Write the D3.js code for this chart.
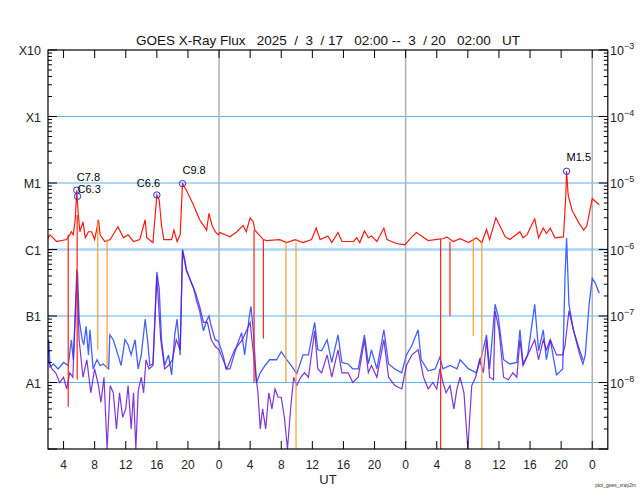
<!DOCTYPE html>
<html><head><meta charset="utf-8">
<script src="https://cdn.jsdelivr.net/npm/d3@7"></script>
<style>body{margin:0;background:#fff}text{font-family:"Liberation Sans",Arial,sans-serif}</style>
</head><body>
<script>
// hours since 2025-03-17 02:00 UT ; flux W/m^2
const redT=[0,0.26,1.1,2.4,2.8,3.0,3.25,3.5,3.7,3.9,4.1,4.5,4.8,5.2,5.6,6.0,6.5,6.7,7.3,8.0,9.0,9.7,10.3,11.0,11.8,12.5,12.7,13.5,14.0,14.3,14.6,14.9,15.5,15.9,16.2,16.6,17.0,17.3,17.8,18.7,19.5,20.0,20.4,20.7,21.1,21.5,21.9,22.1,23.4,24.3,25.1,25.5,26.0,26.4,26.6,27.7,28.1,29.8,30.7,31.8,32.8,33.9,34.5,35.0,36.0,36.5,37.3,37.8,39.3,39.7,40.1,40.7,41.2,41.6,42.3,43.2,43.6,44.8,45.9,46.8,47.4,47.8,48.9,49.8,50.8,51.3,52.1,53.0,54.1,55.1,55.8,56.4,56.8,57.6,58.1,58.8,59.4,60.7,61.1,61.6,62.6,63.1,63.7,64.1,64.6,65.2,66.3,66.6,66.7,66.9,67.4,68.2,68.9,69.3,70.0,70.9];
const redV=[1.5,1.66,1.32,1.41,1.66,1.85,1.66,2.8,7.8,3.3,1.85,2.6,1.5,1.85,1.85,1.41,2.8,1.66,1.32,1.41,2.2,1.5,1.66,1.32,1.41,2.8,1.5,1.27,6.6,5.6,2.3,1.41,1.41,1.41,1.95,1.32,1.66,9.8,7.8,4.7,2.8,2.3,1.95,3.5,2.3,1.85,1.66,1.8,1.55,1.85,2.3,1.85,3.0,2.6,1.95,1.41,1.36,1.41,1.27,1.41,1.27,1.41,2.1,1.41,1.6,1.27,1.8,1.32,1.32,1.5,1.27,1.9,1.5,1.6,1.32,2.1,1.41,1.23,1.17,1.55,1.8,1.66,1.36,1.41,1.45,1.55,1.32,1.45,1.27,1.5,1.27,2.0,1.41,3.0,2.3,1.55,1.41,1.85,1.5,1.66,2.9,1.5,2.1,1.74,2.1,1.5,1.55,6.6,15,6.6,3.9,2.6,1.95,2.25,5.8,4.7].map(v=>v*1e-6);
const blueT=[0,0.1,0.26,0.7,1.3,2.0,2.6,3.0,3.25,3.6,3.8,4.0,4.4,4.6,4.9,5.2,5.4,5.8,6.3,6.7,7.1,7.8,7.95,8.4,9.0,9.4,9.9,10.3,10.7,11.2,11.6,12.0,12.5,12.8,13.1,13.5,14.0,14.3,14.6,15.0,15.5,15.9,16.3,16.6,17.0,17.3,17.6,17.8,18.3,18.7,19.1,19.5,20.0,20.4,20.7,21.0,21.5,21.9,22.5,22.9,23.4,24.3,24.9,25.3,25.9,26.1,26.4,26.6,26.8,27.3,27.9,28.5,29.4,30.0,30.7,31.3,32.0,32.8,33.5,34.3,34.7,35.2,35.9,36.5,37.3,37.8,38.6,39.2,39.9,40.7,41.2,41.6,42.3,43.2,43.8,44.6,45.5,46.1,46.8,47.6,48.0,48.9,49.8,50.4,50.8,51.7,52.6,53.0,54.1,55.1,55.8,56.4,56.8,57.5,57.9,58.6,59.4,60.3,60.7,61.1,61.7,62.6,63.1,63.7,64.1,64.6,65.4,66.2,66.5,66.7,67.0,67.6,68.4,68.8,69.1,69.6,70.0,70.4,70.9];
const blueV=[2.2,4.4,1.7,1.9,1.6,2.0,1.8,4.4,2.2,17,46,9,4.4,3.7,7,2.6,6.2,1.6,2.2,1.8,1.9,1.6,5.2,4.4,2.6,1.8,4.4,3.7,2.6,4.4,1.6,2.6,9,4.4,1.8,1.9,46,26,4.4,1.8,2.6,1.3,5.2,9,2.6,100,70,50,35,27,17,12,6,8.5,10,7,4.4,4.2,2.6,1.6,1.6,3.6,5.6,2.6,10,14,6.2,2.6,0.98,1.4,1.8,2.2,2.2,2.9,2.2,1.8,1.35,2.6,2.6,8,3.1,3.0,4.4,2.0,5.2,2.0,1.9,1.6,1.6,5.2,1.9,3.1,1.6,6.2,1.9,1.6,1.4,2.6,3.6,6.2,2.2,1.5,1.6,2.4,1.6,1.8,1.6,2.2,1.6,1.4,2.6,5.2,1.6,15,10,2.2,1.9,2.0,6.2,1.9,2.6,15,3.0,6.2,2.2,4.4,1.3,1.6,40,150,15,6,2.6,1.9,2.6,15,37,31,22].map(v=>v*1e-8);
const purpT=[0,0.5,1,1.5,2,2.4,2.8,3.2,3.7,4,4.5,5,5.5,6,6.5,6.8,7.2,7.6,8,8.4,8.8,9.2,9.6,10,10.3,10.7,11,11.3,11.6,12,12.3,12.6,13,13.5,14,14.5,15,15.5,16,16.5,17,17.3,17.8,18.5,19,19.5,20,20.5,21,21.5,22,23,24,25,26,26.5,27,27.3,27.6,28,28.4,28.8,29.2,29.6,30,30.4,30.8,31.2,31.6,32,32.5,33,33.5,34.3,34.7,35.2,35.9,36.5,37.3,37.8,38.6,39.2,39.9,40.7,41.2,41.6,42.3,43.2,43.8,44.6,45.5,46.1,46.8,47.6,48.3,48.9,49.5,50,50.4,50.8,51.2,51.7,52.2,52.6,53,53.5,54,54.5,55,55.5,56,56.4,56.8,57.3,57.5,58,58.6,59.2,59.8,60.3,60.7,61.1,61.7,62.6,63.1,63.7,64.1,64.6,65.4,66.2,66.5,67,67.6,68.4,68.8];
const purpV=[2.2,1.6,1.4,1.0,1.2,0.8,1.4,1.2,50,4.4,1.2,2.2,0.7,1.6,0.9,0.5,1.2,0.1,0.9,0.7,0.2,0.7,0.3,0.4,0.9,0.2,0.7,0.08,0.75,1.2,0.7,2.2,1.6,1.8,40,4.4,1.6,1.8,2.2,4.4,3.1,95,48,30,22,14,8,8,4.4,3.5,3.1,1.6,3.1,4.4,8,2.2,0.7,0.2,0.4,0.2,0.7,0.4,0.8,0.6,0.6,0.3,0.1,0.4,1.2,0.9,1.2,1.4,1.2,6,1.6,1.4,2.6,1.2,3.1,1.4,1.4,1.0,1.2,4.4,1.4,1.8,1.2,4.4,1.2,0.9,0.8,1.8,2.6,3.1,1.2,0.8,1.0,0.8,1.6,1.0,0.7,0.9,0.4,0.8,1.2,0.7,0.1,0.9,1.2,2.2,1.4,4.4,1.2,1.1,12,6.2,1.2,1.1,1.4,1.2,4.4,1.8,2.6,4.4,2.2,4.4,3.1,4.4,2.6,2.6,3.6,12,6,3,2.2].map(v=>v*1e-8);
// data dropouts: hour, low flux, channel
const dropT=[2.6,3.75,6.4,7.6,26.5,27.7,30.6,31.9,50.5,51.7,54.7,55.8];
const dropV=[4.3e-9,1.1e-8,3.1e-8,1.6e-8,1e-8,4.6e-8,1e-8,1e-9,1e-9,1e-7,5e-8,1e-9];
const dropC=["red","red","orange","orange","red","red","orange","orange","red","red","orange","orange"];
const flareT=[3.7,3.8,14.0,17.3,66.7];
const flareV=[7.8e-6,6.3e-6,6.6e-6,9.8e-6,1.5e-5];
const flareL=["C7.8","C6.3","C6.6","C9.8","M1.5"];
const classLabels=["X10","X1","M1","C1","B1","A1"];
const classVals=[1e-3,1e-4,1e-5,1e-6,1e-7,1e-8];
const hourTicks=d3.range(2,72,4);
const midnights=[22,46,70];

const W=640,H=500,L=48,R=607.8,T=50,B=449;
const svg=d3.select("body").append("svg").attr("width",W).attr("height",H);
const x=d3.scaleLinear().domain([0,72]).range([L,R]);
const y=d3.scaleLog().domain([1e-9,1e-3]).range([B,T]).clamp(true);

const g=svg.append("g");
g.selectAll(".hg").data(classVals.slice(1)).join("line")
 .attr("x1",L).attr("x2",R).attr("y1",d=>y(d)).attr("y2",d=>y(d))
 .attr("stroke",d=>d===1e-6?"#a8d6fa":"#5ab0f0").attr("stroke-width",d=>d===1e-6?2.5:1.2);
g.selectAll(".mn").data(midnights).join("line")
 .attr("x1",d=>x(d)).attr("x2",d=>x(d)).attr("y1",T).attr("y2",B)
 .attr("stroke","#b0b0b0").attr("stroke-width",1.5);

const line=d3.line().x(d=>x(d[0])).y(d=>y(d[1]));
svg.append("clipPath").attr("id","c").append("rect").attr("x",L).attr("y",T).attr("width",R-L).attr("height",B-T);
const pg=svg.append("g").attr("clip-path","url(#c)");
pg.append("path").datum(blueT.map((t,i)=>[t,blueV[i]])).attr("d",line).attr("fill","none").attr("stroke","#4060ff").attr("stroke-width",1.3);
pg.append("path").datum(purpT.map((t,i)=>[t,purpV[i]])).attr("d",line).attr("fill","none").attr("stroke","#6a10d0").attr("stroke-width",1.2).attr("opacity",0.85);
pg.append("path").datum(redT.map((t,i)=>[t,redV[i]])).attr("d",line).attr("fill","none").attr("stroke","#ff1a10").attr("stroke-width",1.2);
const redAt=t=>{const i=Math.min(d3.bisectLeft(redT,t),redT.length-1);return redV[i];};
pg.selectAll(".dr").data(dropT).join("line")
 .attr("x1",d=>x(d)).attr("x2",d=>x(d)).attr("y1",d=>y(redAt(d))).attr("y2",(d,i)=>y(dropV[i]))
 .attr("stroke",(d,i)=>dropC[i]==="red"?"#ff2010":"#ff9a30").attr("stroke-width",1.2);

svg.selectAll(".fc").data(flareT).join("circle")
 .attr("cx",d=>x(d)).attr("cy",(d,i)=>y(flareV[i])).attr("r",3.2)
 .attr("fill","none").attr("stroke","#2030ff").attr("stroke-width",1);
const lblDy=[-9,-3,-8,-10,-10];
svg.selectAll(".fl").data(flareT).join("text")
 .attr("x",(d,i)=>x(d)+(i===2?-20:0)).attr("y",(d,i)=>y(flareV[i])+lblDy[i])
 .attr("font-size",11).attr("fill","#000").text((d,i)=>flareL[i]);

svg.append("rect").attr("x",L).attr("y",T).attr("width",R-L).attr("height",B-T).attr("fill","none").attr("stroke","#000").attr("stroke-width",1.2);
const minors=[];for(let e=-9;e<-3;e++)for(let k=2;k<=9;k++)minors.push(k*Math.pow(10,e));
[L,R].forEach((X,side)=>{
 const s=side?-1:1;
 svg.selectAll(null).data(minors).join("line").attr("x1",X).attr("x2",X+s*4).attr("y1",d=>y(d)).attr("y2",d=>y(d)).attr("stroke","#000");
 svg.selectAll(null).data(classVals.concat([1e-9])).join("line").attr("x1",X).attr("x2",X+s*9).attr("y1",d=>y(d)).attr("y2",d=>y(d)).attr("stroke","#000");
});
svg.selectAll(null).data(hourTicks).join("line").attr("x1",d=>x(d)).attr("x2",d=>x(d)).attr("y1",T).attr("y2",T+8).attr("stroke","#000");
svg.selectAll(null).data(hourTicks).join("line").attr("x1",d=>x(d)).attr("x2",d=>x(d)).attr("y1",B).attr("y2",B-8).attr("stroke","#000");
svg.selectAll(null).data(hourTicks).join("text").attr("x",d=>x(d)).attr("y",469).attr("text-anchor","middle").attr("font-size",12).attr("fill","#222").text(d=>(d+2)%24);
svg.selectAll(null).data(classVals).join("text").attr("x",41).attr("y",d=>y(d)+5).attr("text-anchor","end").attr("font-size",12.5).attr("fill","#222").text((d,i)=>classLabels[i]);
const rt=svg.selectAll(null).data(classVals).join("text").attr("x",610).attr("y",d=>y(d)+5).attr("font-size",12.5).attr("fill","#222");
rt.append("tspan").text("10");
rt.append("tspan").attr("dy",-6).attr("font-size",9).text(d=>"−"+Math.round(-Math.log10(d)));
svg.append("text").attr("x",328).attr("y",45).attr("text-anchor","middle").attr("font-size",13.5).attr("fill","#111").style("white-space","pre")
 .text("GOES X-Ray Flux   2025  /  3  / 17   02:00 --  3  / 20   02:00   UT");
svg.append("text").attr("x",328).attr("y",484).attr("text-anchor","middle").attr("font-size",13).attr("fill","#222").text("UT");
svg.append("text").attr("x",636).attr("y",487).attr("text-anchor","end").attr("font-size",5).attr("fill","#333").text("plot_goes_xray2m");
</script>
</body></html>
